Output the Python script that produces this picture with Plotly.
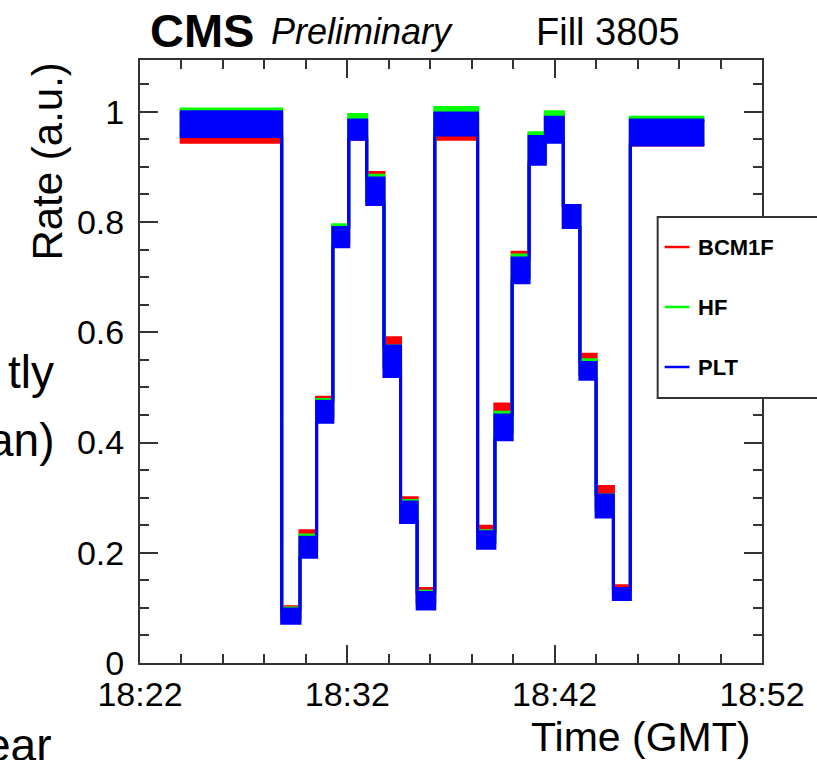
import plotly.graph_objects as go

DAY = "2015-06-03 "

# Step boundaries (GMT)
edge_times = ["18:23:55", "18:28:50", "18:29:43", "18:30:31", "18:31:18", "18:32:04",
              "18:32:56", "18:33:46", "18:34:34", "18:35:22", "18:36:13", "18:38:17",
              "18:39:07", "18:39:57", "18:40:46", "18:41:33", "18:42:25", "18:43:13",
              "18:44:00", "18:44:50", "18:45:39", "18:49:13"]

# Per-step band (low / high) of each luminometer rate
bcm1f_lo = [0.945, 0.082, 0.205, 0.445, 0.760, 0.950, 0.840, 0.535, 0.272, 0.110, 0.950,
            0.220, 0.420, 0.700, 0.910, 0.950, 0.790, 0.525, 0.280, 0.120, 0.940]
bcm1f_hi = [0.995, 0.102, 0.240, 0.482, 0.792, 0.985, 0.890, 0.590, 0.300, 0.135, 0.990,
            0.248, 0.470, 0.745, 0.960, 0.995, 0.830, 0.560, 0.320, 0.140, 0.985]
hf_lo = [0.960, 0.080, 0.205, 0.448, 0.765, 0.960, 0.840, 0.540, 0.268, 0.108, 0.965,
         0.218, 0.418, 0.700, 0.915, 0.955, 0.795, 0.525, 0.275, 0.118, 0.945]
hf_hi = [1.005, 0.100, 0.232, 0.478, 0.795, 0.995, 0.885, 0.575, 0.295, 0.130, 1.008,
         0.240, 0.455, 0.740, 0.962, 1.000, 0.830, 0.550, 0.305, 0.135, 0.990]
plt_lo = [0.955, 0.072, 0.192, 0.437, 0.755, 0.950, 0.832, 0.520, 0.255, 0.098, 0.958,
          0.208, 0.405, 0.690, 0.905, 0.945, 0.790, 0.515, 0.265, 0.115, 0.940]
plt_hi = [1.000, 0.098, 0.228, 0.475, 0.790, 0.985, 0.880, 0.575, 0.292, 0.128, 0.998,
          0.238, 0.450, 0.735, 0.955, 0.990, 0.830, 0.545, 0.305, 0.135, 0.985]

series = [("BCM1F", bcm1f_lo, bcm1f_hi, "#ff0000"),
          ("HF", hf_lo, hf_hi, "#00ff00"),
          ("PLT", plt_lo, plt_hi, "#0000ff")]

y_ticks = [0, 0.2, 0.4, 0.6, 0.8, 1.0]
y_ticktext = ["0", "0.2", "0.4", "0.6", "0.8", "1"]
x_ticks = ["18:22", "18:32", "18:42", "18:52"]

FONT = "Liberation Sans, Arial, Helvetica, sans-serif"

xs = [DAY + t for t in edge_times]
fig = go.Figure()
for name, lo, hi, col in series:
    fig.add_trace(go.Scatter(x=xs, y=hi + [hi[-1]], mode="lines", line=dict(color=col, width=3, shape="hv"),
                             showlegend=False, hoverinfo="skip"))
    fig.add_trace(go.Scatter(x=xs, y=lo + [lo[-1]], mode="lines", line=dict(color=col, width=3, shape="hv"),
                             fill="tonexty", fillcolor=col, showlegend=False, name=name))

# plot area in pixels: x 140..766, y 60..663
L, R, T, B = 140, 766, 60, 663
def px(x):
    return (x - L) / (R - L)
def py(y):
    return (B - y) / (B - T)

fig.update_layout(
    width=817, height=760,
    margin=dict(l=L, r=817 - R, t=T, b=760 - B),
    paper_bgcolor="white", plot_bgcolor="white",
    font=dict(family=FONT, color="black"),
    showlegend=False,
)
fig.update_xaxes(
    type="date",
    range=[DAY + "18:22:00", DAY + "18:52:00"],
    tickvals=[DAY + t + ":00" for t in x_ticks], ticktext=x_ticks,
    ticks="inside", ticklen=18, tickwidth=1.5, tickcolor="#333",
    minor=dict(ticks="inside", ticklen=9, dtick=120000, tick0=DAY + "18:22:00", tickcolor="#333", tickwidth=1.5),
    showline=True, linecolor="#333", linewidth=2, mirror="allticks",
    showgrid=False, zeroline=False,
    tickfont=dict(size=34, family=FONT, color="black"),
    ticklabelstandoff=0,
)
fig.update_yaxes(
    range=[0, 1.094],
    tickvals=y_ticks, ticktext=y_ticktext,
    ticks="inside", ticklen=18, tickwidth=1.5, tickcolor="#333",
    minor=dict(ticks="inside", ticklen=9, dtick=0.05, tick0=0, tickcolor="#333", tickwidth=1.5),
    showline=True, linecolor="#333", linewidth=2, mirror="allticks",
    showgrid=False, zeroline=False,
    tickfont=dict(size=34, family=FONT, color="black"),
    ticklabelstandoff=7,
)

ann = []
ann.append(dict(text="<b>CMS</b>", x=px(148), y=py(30), xanchor="left", yanchor="middle",
                font=dict(size=47, family=FONT, color="black")))
ann.append(dict(text="<i>Preliminary</i>", x=px(270), y=py(32), xanchor="left", yanchor="middle",
                font=dict(size=36, family=FONT, color="black")))
ann.append(dict(text="Fill 3805", x=px(537), y=py(32), xanchor="left", yanchor="middle",
                font=dict(size=38, family=FONT, color="black")))
ann.append(dict(text="Rate (a.u.)", x=px(46), y=py(162), xanchor="center", yanchor="middle", textangle=-90,
                font=dict(size=42, family=FONT, color="black")))
ann.append(dict(text="Time (GMT)", x=px(756), y=py(737), xanchor="right", yanchor="middle",
                font=dict(size=41, family=FONT, color="black")))
# fragments of surrounding slide text (cut by the picture's left edge)
ann.append(dict(text="tly", x=px(55), y=py(372), xanchor="right", yanchor="middle",
                font=dict(size=46, family=FONT, color="black")))
ann.append(dict(text="an)", x=px(55), y=py(440), xanchor="right", yanchor="middle",
                font=dict(size=46, family=FONT, color="black")))
ann.append(dict(text="ear", x=px(52), y=py(745), xanchor="right", yanchor="middle",
                font=dict(size=46, family=FONT, color="black")))

shapes = [dict(type="rect", xref="paper", yref="paper", x0=px(661), x1=px(835), y0=py(398), y1=py(217),
               fillcolor="white", line=dict(color="#333", width=2), layer="above")]
for (name, lo, hi, col), yy in zip(series, [247, 307, 367]):
    shapes.append(dict(type="line", xref="paper", yref="paper", x0=px(668), x1=px(693), y0=py(yy), y1=py(yy),
                       line=dict(color=col, width=2.5), layer="above"))
    ann.append(dict(text="<b>%s</b>" % name, x=px(700), y=py(yy), xanchor="left", yanchor="middle",
                    font=dict(size=22, family=FONT, color="black")))

for a in ann:
    a.update(xref="paper", yref="paper", showarrow=False)
fig.update_layout(annotations=ann, shapes=shapes)

fig.write_html("out.html")
